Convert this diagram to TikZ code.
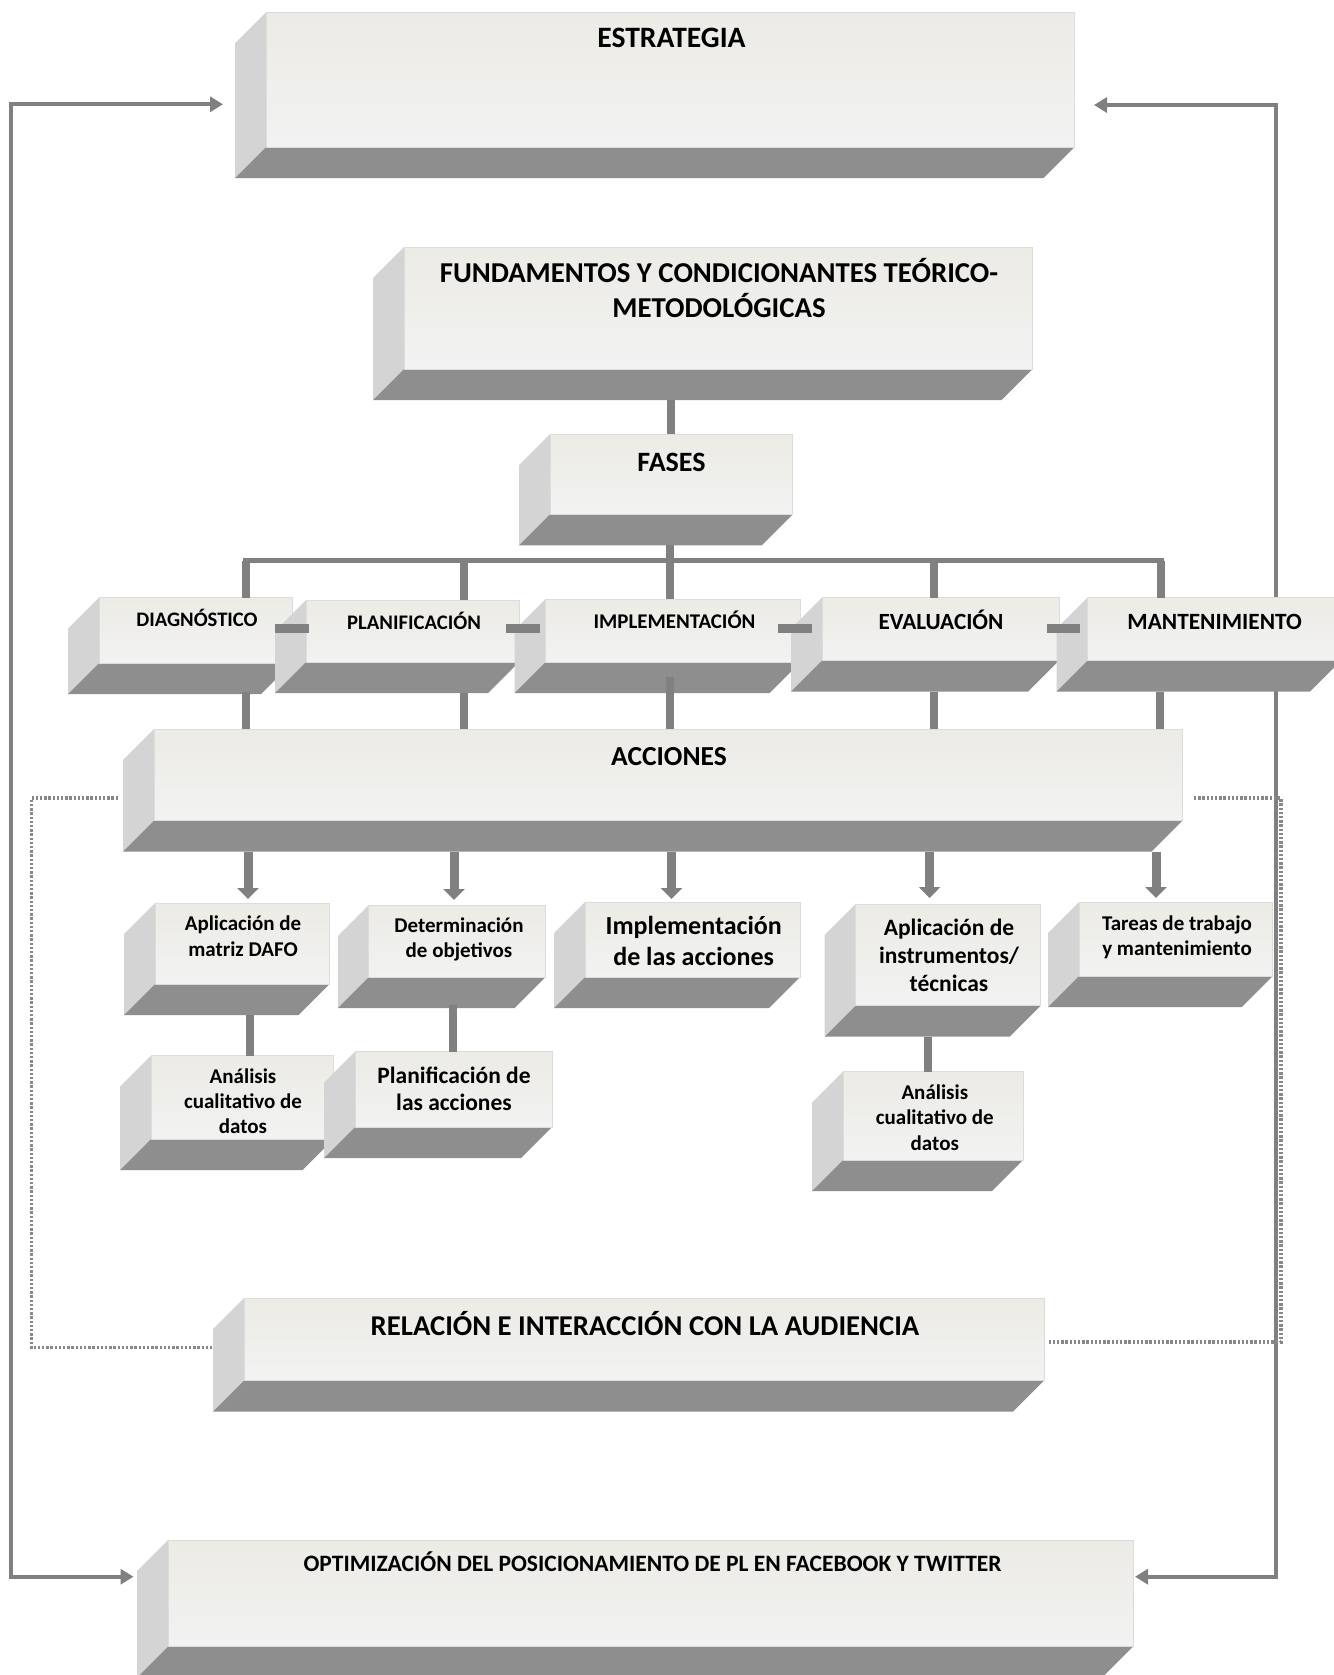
\documentclass[tikz,border=0pt]{standalone}
\usepackage{fontspec}
\setmainfont{Carlito}
\usetikzlibrary{arrows.meta,calc}
\definecolor{conn}{HTML}{808080}
\definecolor{botc}{HTML}{8E8E8E}
\definecolor{sidec}{HTML}{D4D4D4}
\definecolor{ftop}{HTML}{ECEBE5}
\definecolor{fbot}{HTML}{F2F2F2}
\definecolor{fedge}{HTML}{DCDCDC}
\definecolor{dotc}{HTML}{888888}
\tikzset{
  front/.style={draw=fedge, line width=0.8pt, top color=ftop, bottom color=fbot, inner sep=0pt, outer sep=0pt},
  txt/.style={inner sep=0pt, align=center, text=black},
  stub/.style={draw=conn, line width=8pt},
  busline/.style={draw=conn, line width=5pt, line cap=rect},
  hbar/.style={draw=conn, line width=9pt},
  darrow/.style={draw=conn, line width=9pt, -{Triangle[width=21pt,length=11pt]}},
  fb/.style={draw=conn, line width=4pt, {Triangle[width=15pt,length=13pt]}-{Triangle[width=15pt,length=13pt]}},
  dotline/.style={draw=dotc, line width=3.2pt, dash pattern=on 2.4pt off 1.8pt},
}
\newcommand\tdbox[5]{%
  \fill[sidec] (#2,#3) -- (#2,#5) -- ({#2-31},{#5+31}) -- ({#2-31},{#3+31}) -- cycle;
  \fill[botc] (#2,#5) -- (#4,#5) -- ({#4-31},{#5+31}) -- ({#2-31},{#5+31}) -- cycle;
  \node[front, anchor=north west, minimum width={#4-#2}, minimum height={#5-#3}] (#1) at (#2,#3) {};
}
\begin{document}
\begin{tikzpicture}[x=1pt,y=-1pt]
\useasboundingbox[fill=white] (0,0) rectangle (1333,1675);

% feedback lines (behind)
\coordinate (fbLtop) at (223,104.3);
\coordinate (fbLbot) at (133.5,1576.7);
\coordinate (fbRtop) at (1094,105);
\coordinate (fbRbot) at (1135,1576.7);
\draw[fb] (fbLtop) -- (11,104.3) -- (11,1576.7) -- (fbLbot);
\draw[fb] (fbRtop) -- (1276,105) -- (1276,1576.7) -- (fbRbot);

% dotted lines
\coordinate (dLa) at (118,798);
\coordinate (dLb) at (228,1347.7);
\coordinate (dRa) at (1194,798);
\coordinate (dRb) at (1048,1342);
\draw[dotline] (dLa) -- (31.5,798) -- (31.5,1347.7) -- (dLb);
\draw[dotline] (dRa) -- (1281,798) -- (1281,1342) -- (dRb);

% boxes
\tdbox{estr}{266}{12.3}{1074.5}{147}
\tdbox{fund}{404}{247}{1032.5}{369}
\tdbox{fases}{550}{434}{792.8}{514.3}
\tdbox{diag}{99}{597.7}{292}{663}
\tdbox{plan}{306}{600}{519}{662}
\tdbox{impl}{545.5}{599}{800.5}{662}
\tdbox{eval}{822}{597.7}{1059}{660.7}
\tdbox{mant}{1087.5}{597.7}{1341}{660.7}
\tdbox{acc}{154}{729}{1182.5}{820.7}
\tdbox{aa}{155}{903}{329.5}{984}
\tdbox{aab}{151}{1055.7}{333.5}{1139}
\tdbox{ab}{368.75}{905}{545.5}{977}
\tdbox{abb}{355}{1051.7}{552}{1127}
\tdbox{ac}{585}{902}{800}{977}
\tdbox{ad}{855.6}{904}{1040.7}{1005.7}
\tdbox{adb}{843}{1071.7}{1023}{1160}
\tdbox{ae}{1079}{902}{1272.8}{976}
\tdbox{rel}{244}{1298}{1044}{1380.7}
\tdbox{opt}{168}{1540}{1133}{1646.7}

% texts (anchor=base is the baseline of the last line)
\node[txt, font=\fontsize{29.6}{35}\selectfont\bfseries, anchor=base] (estr-t) at (671.5,48) {ESTRATEGIA};
\node[txt, font=\fontsize{28.8}{35}\selectfont\bfseries, anchor=base] (fund-t) at (719,317) {FUNDAMENTOS Y CONDICIONANTES TEÓRICO-\\METODOLÓGICAS};
\node[txt, font=\fontsize{28}{34}\selectfont\bfseries, anchor=base] (fases-t) at (671.5,471) {FASES};
\node[txt, font=\fontsize{20.6}{25}\selectfont\bfseries, anchor=base] (diag-t) at (197,626.7) {DIAGNÓSTICO};
\node[txt, font=\fontsize{20.7}{25}\selectfont\bfseries, anchor=base] (plan-t) at (414,629) {PLANIFICACIÓN};
\node[txt, font=\fontsize{20.9}{25}\selectfont\bfseries, anchor=base] (impl-t) at (674.5,628.3) {IMPLEMENTACIÓN};
\node[txt, font=\fontsize{23.2}{28}\selectfont\bfseries, anchor=base] (eval-t) at (941,629) {EVALUACIÓN};
\node[txt, font=\fontsize{23.3}{28}\selectfont\bfseries, anchor=base] (mant-t) at (1214.6,629) {MANTENIMIENTO};
\node[txt, font=\fontsize{27.5}{33}\selectfont\bfseries, anchor=base] (acc-t) at (669,765) {ACCIONES};
\node[txt, font=\fontsize{21}{26}\selectfont\bfseries, anchor=base] (aa-t) at (243,956) {Aplicación de\\matriz DAFO};
\node[txt, font=\fontsize{21}{25}\selectfont\bfseries, anchor=base] (aab-t) at (243,1133) {Análisis\\cualitativo de\\datos};
\node[txt, font=\fontsize{21}{25}\selectfont\bfseries, anchor=base] (ab-t) at (459,957) {Determinación\\de objetivos};
\node[txt, font=\fontsize{23.5}{27}\selectfont\bfseries, anchor=base] (abb-t) at (454,1110) {Planificación de\\las acciones};
\node[txt, font=\fontsize{26}{31}\selectfont\bfseries, anchor=base] (ac-t) at (693.7,965) {Implementación\\de las acciones};
\node[txt, font=\fontsize{23.5}{28}\selectfont\bfseries, anchor=base] (ad-t) at (949,991) {Aplicación de\\instrumentos/\\técnicas};
\node[txt, font=\fontsize{21}{25.5}\selectfont\bfseries, anchor=base] (adb-t) at (934.8,1150) {Análisis\\cualitativo de\\datos};
\node[txt, font=\fontsize{21}{25}\selectfont\bfseries, anchor=base] (ae-t) at (1177,955) {Tareas de trabajo\\y mantenimiento};
\node[txt, font=\fontsize{28.7}{34}\selectfont\bfseries, anchor=base] (rel-t) at (645,1335) {RELACIÓN E INTERACCIÓN CON LA AUDIENCIA};
\node[txt, font=\fontsize{23.5}{28}\selectfont\bfseries, anchor=base] (opt-t) at (652.6,1571.7) {OPTIMIZACIÓN DEL POSICIONAMIENTO DE PL EN FACEBOOK Y TWITTER};

% tree connectors
\draw[stub] ($(fund.south -| 671,0)+(0,31)$) -- (fases.north -| 671,0);
\coordinate (bus1) at (245.5,560.7);
\coordinate (bus2) at (464,560.7);
\coordinate (bus3) at (669.6,560.7);
\coordinate (bus4) at (933.8,560.7);
\coordinate (bus5) at (1161,560.7);
\draw[busline] (bus1) -- (bus5);
\draw[stub] ($(fases.south -| bus3)+(0,31)$) -- (impl.north -| bus3);
\draw[stub] (bus1) -- (diag.north -| bus1);
\draw[stub] (bus2) -- (plan.north -| bus2);
\draw[stub] (bus4) -- (eval.north -| bus4);
\draw[stub] (bus5) -- (mant.north -| bus5);

% bars between phases
\coordinate (barY) at (0,628.5);
\draw[hbar] ($(diag.east |- barY)+(-17.5,0)$) -- ($(plan.west |- barY)+(3,0)$);
\draw[hbar] ($(plan.east |- barY)+(-13,0)$) -- ($(impl.west |- barY)+(-5.5,0)$);
\draw[hbar] ($(impl.east |- barY)+(-22.5,0)$) -- ($(eval.west |- barY)+(-10,0)$);
\draw[hbar] ($(eval.east |- barY)+(-12.5,0)$) -- ($(mant.west |- barY)+(-7.5,0)$);

% phases to acciones
\draw[stub] ($(diag.south -| bus1)+(0,29)$) -- (acc.north -| bus1);
\draw[stub] ($(plan.south -| bus2)+(0,31)$) -- (acc.north -| bus2);
\draw[stub] ($(impl.south -| bus3)+(0,15)$) -- (acc.north -| bus3);
\draw[stub] ($(eval.south -| bus4)+(0,31)$) -- (acc.north -| bus4);
\draw[stub] ($(mant.south -| 1160,0)+(0,31)$) -- (acc.north -| 1160,0);

% acciones to action boxes
\draw[darrow, shorten >=4pt] ($(acc.south -| 248,0)+(0,31)$) -- (aa.north -| 248,0);
\draw[darrow, shorten >=5pt] ($(acc.south -| 454,0)+(0,31)$) -- (ab.north -| 454,0);
\draw[darrow, shorten >=3pt] ($(acc.south -| 671.5,0)+(0,31)$) -- (ac.north -| 671.5,0);
\draw[darrow, shorten >=6pt] ($(acc.south -| 929.6,0)+(0,31)$) -- (ad.north -| 929.6,0);
\draw[darrow, shorten >=4pt] ($(acc.south -| 1156,0)+(0,31)$) -- (ae.north -| 1156,0);

% sub connectors
\draw[stub] ($(aa.south -| 250,0)+(0,31)$) -- (aab.north -| 250,0);
\draw[stub] ($(ab.south -| 453,0)+(0,28)$) -- (abb.north -| 453,0);
\draw[stub] ($(ad.south -| 928,0)+(0,31)$) -- (adb.north -| 928,0);
\end{tikzpicture}
\end{document}
